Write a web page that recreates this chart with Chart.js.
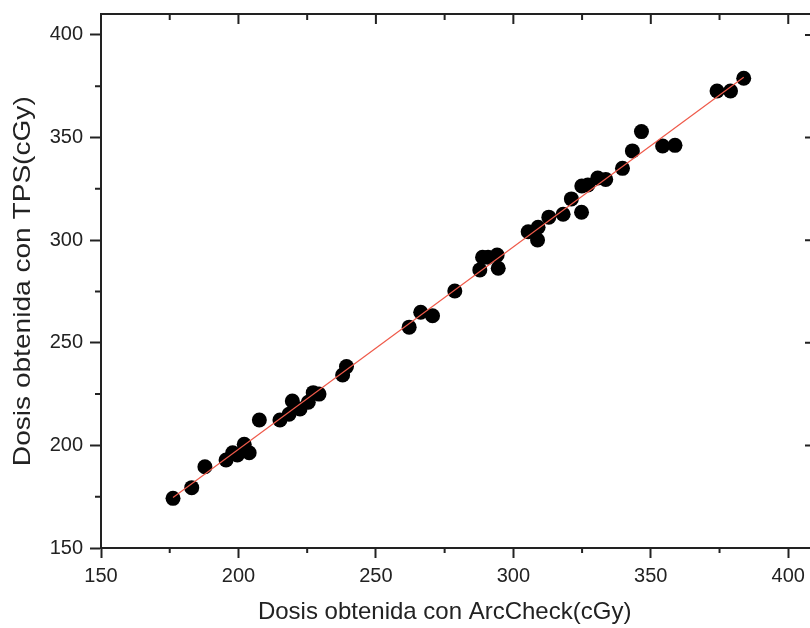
<!DOCTYPE html>
<html>
<head>
<meta charset="utf-8">
<script src="https://cdn.jsdelivr.net/npm/chart.js@4.4.0/dist/chart.umd.min.js"></script>
<style>
  html, body { margin: 0; padding: 0; background: #fff; overflow: hidden; }
  #grafico { display: block; }
</style>
</head>
<body>
<canvas id="grafico" width="830" height="628"></canvas>
<script>
// valores (cGy)
const dosisArcCheck = [176.2, 183.0, 187.8, 195.5, 197.9, 199.6, 202.1, 203.9, 207.6, 215.1,
    218.4, 219.6, 222.4, 225.4, 227.2, 229.3, 237.9, 239.3, 262.1, 266.3,
    270.6, 278.7, 287.8, 288.8, 290.8, 294.1, 294.5, 305.4, 309.0, 308.8,
    312.9, 318.1, 324.8, 321.1, 324.9, 327.1, 330.7, 333.6, 339.7, 343.3,
    346.6, 354.3, 358.8, 374.1, 379.0, 383.8];
const dosisTPS = [174.2, 179.4, 189.6, 192.9, 196.4, 195.3, 200.5, 196.4, 212.4, 212.4,
    215.2, 221.6, 217.7, 221.0, 225.7, 225.0, 234.3, 238.4, 257.6, 264.9,
    263.2, 275.2, 285.5, 291.7, 291.7, 292.8, 286.3, 304.1, 306.3, 300.1,
    311.2, 312.6, 313.6, 320.1, 326.4, 326.9, 330.3, 329.6, 335.0, 343.5,
    352.9, 345.9, 346.2, 372.7, 372.7, 378.9];
// recta de ajuste (extremos)
const ajusteX = [176.2, 383.8];
const ajusteY = [174.6, 379.4];
const ticksX = [150, 200, 250, 300, 350, 400];
const ticksY = [150, 200, 250, 300, 350, 400];
const tituloX = 'Dosis obtenida con ArcCheck(cGy)';
const tituloY = 'Dosis obtenida con TPS(cGy)';

const colorEje = '#222';
const fuente = '"Liberation Sans", Arial, sans-serif';

const puntos = dosisArcCheck.map((x, i) => ({ x: x, y: dosisTPS[i] }));
const recta = ajusteX.map((x, i) => ({ x: x, y: ajusteY[i] }));

// ticks menores, ejes superior/derecho y titulos
const marcoPlugin = {
    id: 'marco',
    afterDraw(chart) {
        const ctx = chart.ctx;
        const a = chart.chartArea;
        const sx = chart.scales.x;
        const sy = chart.scales.y;
        ctx.save();
        ctx.strokeStyle = colorEje;
        ctx.lineWidth = 2;
        ctx.beginPath();
        ctx.moveTo(a.left - 1, a.top);
        ctx.lineTo(a.right, a.top);
        ctx.lineTo(a.right, a.bottom);
        ctx.stroke();

        ctx.beginPath();
        for (let v = 150; v <= 400; v += 25) {
            const px = sx.getPixelForValue(v);
            const mayor = v % 50 === 0;
            if (!mayor) {
                ctx.moveTo(px, a.bottom);
                ctx.lineTo(px, a.bottom + 5);
            }
            ctx.moveTo(px, a.top);
            ctx.lineTo(px, a.top + (mayor ? 10 : 6));
        }
        for (let v = 150; v <= 400; v += 25) {
            const py = sy.getPixelForValue(v);
            const mayor = v % 50 === 0;
            if (!mayor) {
                ctx.moveTo(a.left, py);
                ctx.lineTo(a.left - 6, py);
            } else {
                ctx.moveTo(a.right, py);
                ctx.lineTo(a.right - 8, py);
            }
        }
        ctx.stroke();

        ctx.fillStyle = colorEje;
        ctx.textAlign = 'center';
        ctx.textBaseline = 'middle';
        ctx.font = '24px ' + fuente;
        ctx.fillText(tituloX, sx.getPixelForValue(275), 612);
        ctx.translate(23, sy.getPixelForValue(280));
        ctx.rotate(-Math.PI / 2);
        ctx.scale(1.17, 1);
        ctx.fillText(tituloY, 0, 0);
        ctx.restore();
    }
};

new Chart(document.getElementById('grafico'), {
    type: 'scatter',
    data: {
        datasets: [{
            type: 'line',
            data: recta,
            borderColor: '#ef5a4a',
            borderWidth: 1.2,
            pointRadius: 0,
            fill: false
        }, {
            data: puntos,
            backgroundColor: '#000',
            borderWidth: 0,
            pointRadius: 7.5
        }]
    },
    options: {
        responsive: false,
        animation: false,
        layout: { padding: { top: 14, right: 17, left: 0, bottom: 0 } },
        plugins: {
            legend: { display: false },
            tooltip: { enabled: false }
        },
        scales: {
            x: {
                type: 'linear',
                min: 150,
                max: 409,
                afterBuildTicks: s => { s.ticks = ticksX.map(v => ({ value: v })); },
                afterFit: s => { s.height = 80; s.paddingLeft = 0; s.paddingRight = 0; },
                grid: { drawOnChartArea: false, tickLength: 10, tickWidth: 2, tickColor: colorEje },
                border: { width: 2, color: colorEje },
                ticks: { color: colorEje, font: { family: fuente, size: 20 }, padding: 6, maxRotation: 0 }
            },
            y: {
                type: 'linear',
                min: 150,
                max: 410.2,
                afterBuildTicks: s => { s.ticks = ticksY.map(v => ({ value: v })); },
                afterFit: s => { s.width = 101; s.paddingTop = 0; s.paddingBottom = 0; },
                grid: { drawOnChartArea: false, tickLength: 11, tickWidth: 2, tickColor: colorEje },
                border: { width: 2, color: colorEje },
                ticks: { color: colorEje, font: { family: fuente, size: 20 }, padding: 7 }
            }
        }
    },
    plugins: [marcoPlugin]
});
</script>
</body>
</html>
